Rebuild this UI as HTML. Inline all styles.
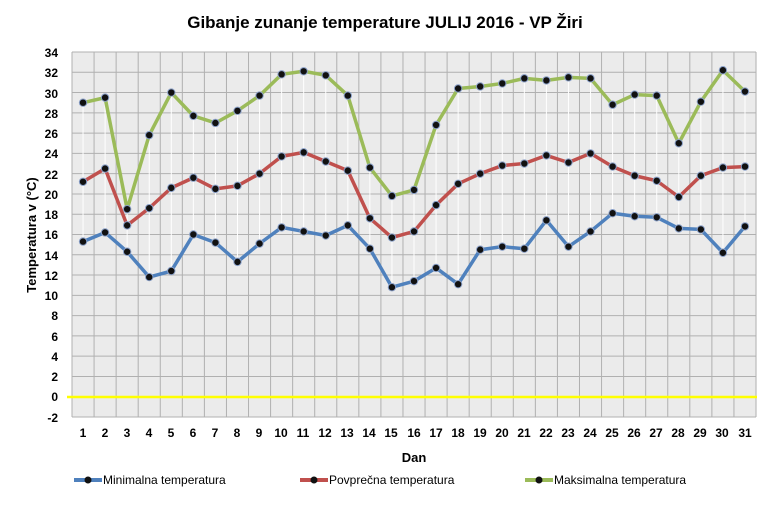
<!DOCTYPE html>
<html><head><meta charset="utf-8"><style>
body{margin:0;background:#fff;}
svg text{font-family:"Liberation Sans",sans-serif;font-weight:bold;fill:#000;}
</style></head><body>
<svg id="s" width="770" height="505" viewBox="0 0 770 505" xmlns="http://www.w3.org/2000/svg">
<rect x="72" y="52" width="684" height="365" fill="#ebebeb"/>
<g id="grid" stroke="#b0b0b0" stroke-width="1"></g>
<g id="drops" stroke="#fff" stroke-width="1"></g>
<line x1="67" y1="397" x2="757" y2="397" stroke="#ffff00" stroke-width="2.5"/>
<g id="series"></g>
<text x="385" y="28" font-size="17" text-anchor="middle">Gibanje zunanje temperature JULIJ 2016 - VP Žiri</text>
<g font-size="12" text-anchor="end">
<text x="58" y="57">34</text><text x="58" y="77">32</text><text x="58" y="98">30</text><text x="58" y="118">28</text><text x="58" y="138">26</text><text x="58" y="158">24</text><text x="58" y="179">22</text><text x="58" y="199">20</text><text x="58" y="219">18</text><text x="58" y="239">16</text><text x="58" y="260">14</text><text x="58" y="280">12</text><text x="58" y="300">10</text><text x="58" y="320">8</text><text x="58" y="341">6</text><text x="58" y="361">4</text><text x="58" y="381">2</text><text x="58" y="401">0</text><text x="58" y="422">-2</text>
</g>
<g font-size="12" text-anchor="middle">
<text x="83" y="437">1</text><text x="105" y="437">2</text><text x="127" y="437">3</text><text x="149" y="437">4</text><text x="171" y="437">5</text><text x="193" y="437">6</text><text x="215" y="437">7</text><text x="237" y="437">8</text><text x="259" y="437">9</text><text x="281" y="437">10</text><text x="303" y="437">11</text><text x="325" y="437">12</text><text x="347" y="437">13</text><text x="369" y="437">14</text><text x="391" y="437">15</text><text x="414" y="437">16</text><text x="436" y="437">17</text><text x="458" y="437">18</text><text x="480" y="437">19</text><text x="502" y="437">20</text><text x="524" y="437">21</text><text x="546" y="437">22</text><text x="568" y="437">23</text><text x="590" y="437">24</text><text x="612" y="437">25</text><text x="634" y="437">26</text><text x="656" y="437">27</text><text x="678" y="437">28</text><text x="700" y="437">29</text><text x="722" y="437">30</text><text x="745" y="437">31</text>
</g>
<text x="414" y="462" font-size="13" text-anchor="middle">Dan</text>
<text transform="translate(36,235) rotate(-90)" font-size="13" text-anchor="middle">Temperatura v (°C)</text>
<g font-size="12">
<line x1="74" y1="480" x2="102" y2="480" stroke="#4f81bd" stroke-width="4"/><circle cx="88" cy="480" r="3.5" fill="#111"/><text x="103" y="484" style="font-weight:normal">Minimalna temperatura</text>
<line x1="300" y1="480" x2="328" y2="480" stroke="#c0504d" stroke-width="4"/><circle cx="314" cy="480" r="3.5" fill="#111"/><text x="329" y="484" style="font-weight:normal">Povprečna temperatura</text>
<line x1="525" y1="480" x2="553" y2="480" stroke="#9bbb59" stroke-width="4"/><circle cx="539" cy="480" r="3.5" fill="#111"/><text x="554" y="484" style="font-weight:normal">Maksimalna temperatura</text>
</g>
</svg>
<script>
var NS="http://www.w3.org/2000/svg";
function X(i){return 72+22.065*(i+0.5);}
function Y(v){return 52+(34-v)*10.139;}
var g=document.getElementById("grid");
for(var v=-2;v<=34;v+=2){var l=document.createElementNS(NS,"line");l.setAttribute("x1",72);l.setAttribute("x2",756);l.setAttribute("y1",Y(v));l.setAttribute("y2",Y(v));g.appendChild(l);}
for(var i=0;i<=31;i++){var l=document.createElementNS(NS,"line");var x=72+22.065*i;l.setAttribute("x1",x);l.setAttribute("x2",x);l.setAttribute("y1",52);l.setAttribute("y2",417);g.appendChild(l);}
var mx=[29,29.5,18.5,25.8,30,27.7,27,28.2,29.7,31.8,32.1,31.7,29.7,22.6,19.8,20.4,26.8,30.4,30.6,30.9,31.4,31.2,31.5,31.4,28.8,29.8,29.7,25,29.1,32.2,30.1];
var av=[21.2,22.5,16.9,18.6,20.6,21.6,20.5,20.8,22,23.7,24.1,23.2,22.3,17.6,15.7,16.3,18.9,21,22,22.8,23,23.8,23.1,24,22.7,21.8,21.3,19.7,21.8,22.6,22.7];
var mn=[15.3,16.2,14.3,11.8,12.4,16,15.2,13.3,15.1,16.7,16.3,15.9,16.9,14.6,10.8,11.4,12.7,11.1,14.5,14.8,14.6,17.4,14.8,16.3,18.1,17.8,17.7,16.6,16.5,14.2,16.8];
var d=document.getElementById("drops");
for(var i=0;i<31;i++){var l=document.createElementNS(NS,"line");l.setAttribute("x1",X(i));l.setAttribute("x2",X(i));l.setAttribute("y1",Y(mx[i]));l.setAttribute("y2",Y(mn[i]));d.appendChild(l);}
var s=document.getElementById("series");
[[mn,"#4f81bd"],[av,"#c0504d"],[mx,"#9bbb59"]].forEach(function(p){
 var pts=p[0].map(function(v,i){return X(i)+","+Y(v);}).join(" ");
 var pl=document.createElementNS(NS,"polyline");pl.setAttribute("points",pts);pl.setAttribute("fill","none");pl.setAttribute("stroke",p[1]);pl.setAttribute("stroke-width","3.5");pl.setAttribute("stroke-linejoin","round");s.appendChild(pl);
 p[0].forEach(function(v,i){var c=document.createElementNS(NS,"circle");c.setAttribute("cx",X(i));c.setAttribute("cy",Y(v));c.setAttribute("r",3.7);c.setAttribute("fill","#111");c.setAttribute("stroke","#8aa0c8");c.setAttribute("stroke-width","1");s.appendChild(c);});
});
</script>
</body></html>
